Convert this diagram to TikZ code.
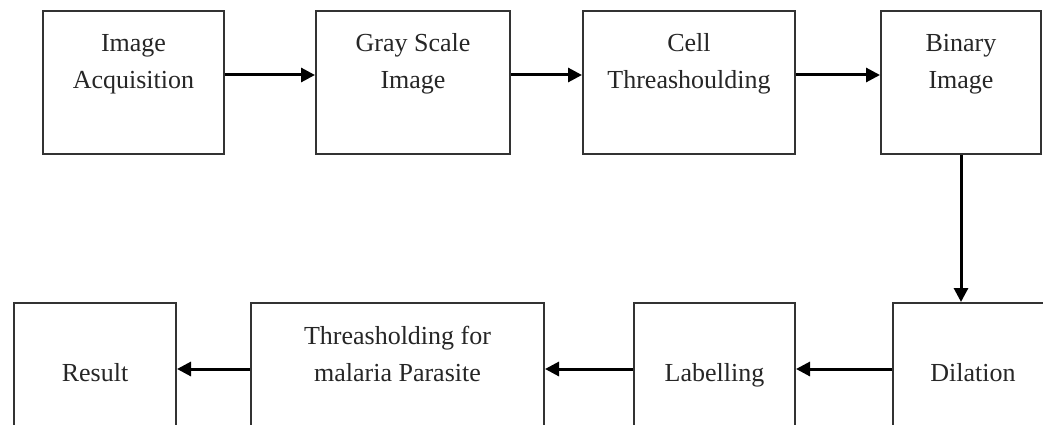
\documentclass[tikz,border=0pt]{standalone}
\usepackage{fontspec}
\setmainfont{Liberation Serif}
\usetikzlibrary{arrows.meta}
\begin{document}
\begin{tikzpicture}[x=1pt,y=-1pt,
  box/.style={draw=black!80, line width=2pt, inner sep=0pt, align=center,
    font=\fontsize{26}{37}\selectfont, text=black!85,
    text height=78pt, text depth=65pt, anchor=north west},
  conn/.style={line width=3pt, draw=black, -{Triangle[length=14pt,width=14pt]}}]
\useasboundingbox (0,0) rectangle (1043,425);
\clip (0,0) rectangle (1043,425);
\fill[white] (0,0) rectangle (1043,425);
% top row
\node[box, minimum width=181pt] (b1) at (42,10) {Image\\Acquisition};
\node[box, minimum width=194pt] (b2) at (315,10) {Gray Scale\\Image};
\node[box, minimum width=212pt] (b3) at (582,10) {Cell\\Threashoulding};
\node[box, minimum width=160pt] (b4) at (880,10) {Binary\\Image};
% bottom row
\node[box, minimum width=162pt] (res) at (13,302) {Result};
\node[box, minimum width=293pt] (thr) at (250,302) {Threasholding for\\malaria Parasite};
\node[box, minimum width=161pt] (lab) at (633,302) {Labelling};
\node[box, minimum width=160pt] (dil) at (892,302) {Dilation};
% connectors
\draw[conn] ([yshift=7.5pt]b1.east) -- ([yshift=7.5pt]b2.west);
\draw[conn] ([yshift=7.5pt]b2.east) -- ([yshift=7.5pt]b3.west);
\draw[conn] ([yshift=7.5pt]b3.east) -- ([yshift=7.5pt]b4.west);
\draw[conn] (b4.south) -- (b4.south |- dil.north);
\draw[conn] ([yshift=5.5pt]dil.west) -- ([yshift=5.5pt]lab.east);
\draw[conn] ([yshift=5.5pt]lab.west) -- ([yshift=5.5pt]thr.east);
\draw[conn] ([yshift=5.5pt]thr.west) -- ([yshift=5.5pt]res.east);
\end{tikzpicture}
\end{document}
